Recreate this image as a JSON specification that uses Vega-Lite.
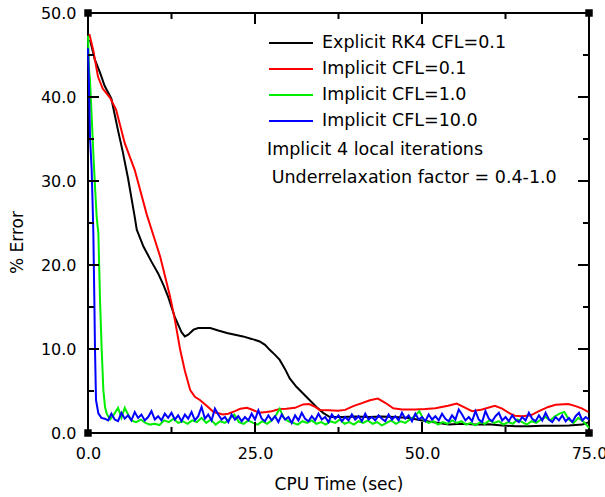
{
  "$schema": "https://vega.github.io/schema/vega-lite/v6.json",
  "autosize": {"type": "none"},
  "width": 501,
  "height": 420,
  "padding": {"left": 88, "top": 13, "right": 16, "bottom": 64},
  "background": "white",
  "config": {"font": "DejaVu Sans", "view": {"stroke": "black", "strokeWidth": 2}},
  "datasets": {
    "curves": [
      {"s":"A","t":0.3,"e":46.8},{"s":"A","t":1.0,"e":44.5},{"s":"A","t":1.8,"e":42.9},{"s":"A","t":2.5,"e":41.3},{"s":"A","t":3.5,"e":39.8},{"s":"A","t":4.5,"e":36.0},{"s":"A","t":5.2,"e":33.5},{"s":"A","t":6.0,"e":30.3},{"s":"A","t":7.0,"e":25.7},{"s":"A","t":7.3,"e":24.2},{"s":"A","t":8.3,"e":22.2},{"s":"A","t":9.5,"e":20.4},{"s":"A","t":10.5,"e":19.0},{"s":"A","t":11.3,"e":17.6},{"s":"A","t":12.0,"e":16.2},{"s":"A","t":13.0,"e":13.8},{"s":"A","t":14.0,"e":12.0},{"s":"A","t":14.5,"e":11.5},{"s":"A","t":15.0,"e":11.7},{"s":"A","t":15.8,"e":12.3},{"s":"A","t":16.5,"e":12.5},{"s":"A","t":18.3,"e":12.5},{"s":"A","t":19.5,"e":12.2},{"s":"A","t":20.8,"e":11.9},{"s":"A","t":22.0,"e":11.7},{"s":"A","t":23.2,"e":11.5},{"s":"A","t":24.5,"e":11.2},{"s":"A","t":25.7,"e":10.9},{"s":"A","t":26.5,"e":10.5},{"s":"A","t":27.2,"e":9.9},{"s":"A","t":28.0,"e":9.3},{"s":"A","t":28.7,"e":8.7},{"s":"A","t":29.5,"e":7.6},{"s":"A","t":30.2,"e":6.5},{"s":"A","t":31.2,"e":5.5},{"s":"A","t":32.2,"e":4.7},{"s":"A","t":33.2,"e":3.9},{"s":"A","t":34.2,"e":3.1},{"s":"A","t":35.2,"e":2.4},{"s":"A","t":36.2,"e":1.9},{"s":"A","t":38.0,"e":1.9},{"s":"A","t":40.0,"e":1.95},{"s":"A","t":42.0,"e":1.9},{"s":"A","t":44.0,"e":1.95},{"s":"A","t":46.0,"e":1.9},{"s":"A","t":48.0,"e":1.8},{"s":"A","t":50.0,"e":1.5},{"s":"A","t":52.0,"e":1.25},{"s":"A","t":54.0,"e":1.0},{"s":"A","t":56.0,"e":1.1},{"s":"A","t":58.0,"e":1.0},{"s":"A","t":60.0,"e":1.05},{"s":"A","t":62.0,"e":0.9},{"s":"A","t":64.0,"e":0.8},{"s":"A","t":66.0,"e":0.8},{"s":"A","t":68.0,"e":0.85},{"s":"A","t":70.0,"e":0.85},{"s":"A","t":72.0,"e":0.9},{"s":"A","t":74.0,"e":1.0},{"s":"A","t":75.0,"e":1.3},
      {"s":"B","t":0.2,"e":47.5},{"s":"B","t":0.8,"e":45.5},{"s":"B","t":1.5,"e":42.4},{"s":"B","t":2.2,"e":41.0},{"s":"B","t":3.3,"e":39.9},{"s":"B","t":4.2,"e":38.5},{"s":"B","t":5.5,"e":34.5},{"s":"B","t":7.0,"e":31.3},{"s":"B","t":8.8,"e":26.0},{"s":"B","t":10.0,"e":23.0},{"s":"B","t":10.8,"e":21.0},{"s":"B","t":12.3,"e":16.2},{"s":"B","t":13.0,"e":13.5},{"s":"B","t":13.8,"e":9.9},{"s":"B","t":14.5,"e":7.4},{"s":"B","t":15.3,"e":5.1},{"s":"B","t":16.0,"e":4.3},{"s":"B","t":16.8,"e":3.9},{"s":"B","t":17.8,"e":3.2},{"s":"B","t":18.8,"e":2.5},{"s":"B","t":20.2,"e":2.2},{"s":"B","t":21.0,"e":2.3},{"s":"B","t":22.0,"e":2.6},{"s":"B","t":22.8,"e":2.9},{"s":"B","t":23.8,"e":3.0},{"s":"B","t":24.5,"e":2.8},{"s":"B","t":25.7,"e":2.4},{"s":"B","t":26.7,"e":2.5},{"s":"B","t":27.5,"e":2.6},{"s":"B","t":28.7,"e":2.85},{"s":"B","t":29.7,"e":2.9},{"s":"B","t":31.0,"e":3.0},{"s":"B","t":32.2,"e":3.4},{"s":"B","t":33.1,"e":3.45},{"s":"B","t":34.0,"e":3.1},{"s":"B","t":34.7,"e":2.75},{"s":"B","t":36.0,"e":2.7},{"s":"B","t":37.4,"e":2.65},{"s":"B","t":38.5,"e":2.75},{"s":"B","t":39.7,"e":3.2},{"s":"B","t":40.8,"e":3.5},{"s":"B","t":42.2,"e":3.9},{"s":"B","t":43.4,"e":4.1},{"s":"B","t":44.5,"e":3.6},{"s":"B","t":45.7,"e":2.95},{"s":"B","t":47.0,"e":2.8},{"s":"B","t":49.0,"e":2.8},{"s":"B","t":50.5,"e":2.85},{"s":"B","t":52.0,"e":2.95},{"s":"B","t":53.9,"e":3.25},{"s":"B","t":55.2,"e":3.5},{"s":"B","t":56.5,"e":3.0},{"s":"B","t":57.5,"e":2.6},{"s":"B","t":59.0,"e":2.8},{"s":"B","t":60.9,"e":3.25},{"s":"B","t":62.0,"e":2.9},{"s":"B","t":63.2,"e":2.3},{"s":"B","t":63.9,"e":2.05},{"s":"B","t":65.0,"e":2.0},{"s":"B","t":66.3,"e":2.1},{"s":"B","t":67.5,"e":2.6},{"s":"B","t":68.9,"e":3.1},{"s":"B","t":70.0,"e":3.35},{"s":"B","t":71.9,"e":3.45},{"s":"B","t":73.0,"e":3.2},{"s":"B","t":74.0,"e":2.9},{"s":"B","t":74.9,"e":2.5},
      {"s":"C","t":0.0,"e":47.3},{"s":"C","t":0.15,"e":43.3},{"s":"C","t":0.3,"e":42.0},{"s":"C","t":0.55,"e":37.7},{"s":"C","t":0.8,"e":33.3},{"s":"C","t":1.05,"e":29.3},{"s":"C","t":1.3,"e":25.7},{"s":"C","t":1.55,"e":23.8},{"s":"C","t":1.8,"e":15.8},{"s":"C","t":2.05,"e":9.9},{"s":"C","t":2.3,"e":5.1},{"s":"C","t":2.55,"e":3.1},{"s":"C","t":2.8,"e":2.3},{"s":"C","t":3.05,"e":1.95},{"s":"C","t":3.3,"e":1.6},{"s":"C","t":3.8,"e":2.1},{"s":"C","t":4.5,"e":3.0},{"s":"C","t":5.0,"e":1.8},{"s":"C","t":5.5,"e":3.0},{"s":"C","t":6.0,"e":2.2},{"s":"C","t":6.5,"e":1.5},{"s":"C","t":7.2,"e":1.3},{"s":"C","t":7.9,"e":1.6},{"s":"C","t":8.6,"e":1.2},{"s":"C","t":9.3,"e":1.0},{"s":"C","t":10.0,"e":1.1},{"s":"C","t":10.7,"e":0.95},{"s":"C","t":11.4,"e":1.5},{"s":"C","t":12.1,"e":1.3},{"s":"C","t":12.8,"e":1.7},{"s":"C","t":13.5,"e":1.2},{"s":"C","t":14.2,"e":1.4},{"s":"C","t":14.9,"e":1.1},{"s":"C","t":15.6,"e":1.5},{"s":"C","t":16.3,"e":1.3},{"s":"C","t":17.0,"e":1.8},{"s":"C","t":17.7,"e":1.2},{"s":"C","t":18.4,"e":1.6},{"s":"C","t":19.1,"e":1.0},{"s":"C","t":19.8,"e":1.4},{"s":"C","t":20.5,"e":1.2},{"s":"C","t":21.2,"e":1.7},{"s":"C","t":21.9,"e":2.2},{"s":"C","t":22.6,"e":1.3},{"s":"C","t":23.3,"e":1.1},{"s":"C","t":24.0,"e":1.5},{"s":"C","t":24.7,"e":1.2},{"s":"C","t":25.4,"e":1.0},{"s":"C","t":26.1,"e":1.4},{"s":"C","t":26.8,"e":1.1},{"s":"C","t":27.5,"e":1.5},{"s":"C","t":28.2,"e":2.2},{"s":"C","t":28.7,"e":2.9},{"s":"C","t":29.3,"e":1.8},{"s":"C","t":30.0,"e":1.4},{"s":"C","t":30.7,"e":1.2},{"s":"C","t":31.4,"e":1.0},{"s":"C","t":32.1,"e":1.4},{"s":"C","t":32.8,"e":1.2},{"s":"C","t":33.5,"e":1.5},{"s":"C","t":34.2,"e":1.1},{"s":"C","t":34.9,"e":1.3},{"s":"C","t":35.6,"e":1.0},{"s":"C","t":36.3,"e":1.4},{"s":"C","t":37.0,"e":1.2},{"s":"C","t":37.7,"e":1.6},{"s":"C","t":38.4,"e":1.1},{"s":"C","t":39.1,"e":1.3},{"s":"C","t":39.8,"e":1.0},{"s":"C","t":40.5,"e":1.4},{"s":"C","t":41.2,"e":1.2},{"s":"C","t":41.9,"e":1.5},{"s":"C","t":42.6,"e":1.1},{"s":"C","t":43.3,"e":1.3},{"s":"C","t":44.0,"e":0.9},{"s":"C","t":44.7,"e":1.2},{"s":"C","t":45.4,"e":1.5},{"s":"C","t":46.1,"e":1.1},{"s":"C","t":46.8,"e":1.4},{"s":"C","t":47.5,"e":1.2},{"s":"C","t":48.2,"e":1.6},{"s":"C","t":48.9,"e":2.0},{"s":"C","t":49.6,"e":2.6},{"s":"C","t":50.3,"e":1.5},{"s":"C","t":51.0,"e":1.2},{"s":"C","t":51.7,"e":1.4},{"s":"C","t":52.4,"e":1.0},{"s":"C","t":53.1,"e":1.3},{"s":"C","t":53.8,"e":1.1},{"s":"C","t":54.5,"e":1.5},{"s":"C","t":55.2,"e":1.2},{"s":"C","t":55.9,"e":1.4},{"s":"C","t":56.6,"e":1.0},{"s":"C","t":57.3,"e":1.2},{"s":"C","t":58.0,"e":0.9},{"s":"C","t":58.7,"e":1.3},{"s":"C","t":59.4,"e":1.1},{"s":"C","t":60.1,"e":1.5},{"s":"C","t":60.8,"e":1.2},{"s":"C","t":61.5,"e":1.4},{"s":"C","t":62.2,"e":1.0},{"s":"C","t":62.9,"e":1.3},{"s":"C","t":63.6,"e":1.1},{"s":"C","t":64.3,"e":1.6},{"s":"C","t":65.0,"e":1.3},{"s":"C","t":65.7,"e":1.0},{"s":"C","t":66.4,"e":1.4},{"s":"C","t":67.1,"e":1.2},{"s":"C","t":67.8,"e":1.6},{"s":"C","t":68.5,"e":1.9},{"s":"C","t":69.2,"e":1.5},{"s":"C","t":69.9,"e":2.0},{"s":"C","t":70.6,"e":2.3},{"s":"C","t":71.3,"e":2.5},{"s":"C","t":72.0,"e":1.6},{"s":"C","t":72.7,"e":1.2},{"s":"C","t":73.4,"e":1.8},{"s":"C","t":74.1,"e":1.4},{"s":"C","t":74.6,"e":1.0},{"s":"C","t":75.0,"e":0.6},
      {"s":"D","t":0.0,"e":45.8},{"s":"D","t":0.15,"e":41.2},{"s":"D","t":0.3,"e":35.3},{"s":"D","t":0.55,"e":31.3},{"s":"D","t":0.7,"e":27.0},{"s":"D","t":0.8,"e":23.8},{"s":"D","t":0.95,"e":15.8},{"s":"D","t":1.05,"e":9.9},{"s":"D","t":1.2,"e":3.9},{"s":"D","t":1.55,"e":2.35},{"s":"D","t":2.0,"e":1.8},
      {"s":"D","t":2.5,"e":1.7},{"s":"D","t":3.0,"e":1.5},{"s":"D","t":3.5,"e":2.3},{"s":"D","t":4.0,"e":1.6},{"s":"D","t":4.5,"e":1.4},{"s":"D","t":5.0,"e":2.4},{"s":"D","t":5.5,"e":1.7},{"s":"D","t":6.0,"e":2.1},{"s":"D","t":6.5,"e":1.5},{"s":"D","t":7.0,"e":2.5},{"s":"D","t":7.5,"e":1.8},{"s":"D","t":8.0,"e":2.2},{"s":"D","t":8.5,"e":1.5},{"s":"D","t":9.0,"e":1.9},{"s":"D","t":9.5,"e":2.6},{"s":"D","t":10.0,"e":1.6},{"s":"D","t":10.5,"e":2.0},{"s":"D","t":11.0,"e":1.5},{"s":"D","t":11.5,"e":2.3},{"s":"D","t":12.0,"e":1.8},{"s":"D","t":12.5,"e":2.4},{"s":"D","t":13.0,"e":1.6},{"s":"D","t":13.5,"e":2.1},{"s":"D","t":14.0,"e":1.4},{"s":"D","t":14.5,"e":2.2},{"s":"D","t":15.0,"e":1.7},{"s":"D","t":15.5,"e":2.5},{"s":"D","t":16.0,"e":1.5},{"s":"D","t":16.5,"e":2.0},{"s":"D","t":17.0,"e":3.1},{"s":"D","t":17.5,"e":1.7},{"s":"D","t":18.0,"e":2.2},{"s":"D","t":18.5,"e":1.5},{"s":"D","t":19.0,"e":2.9},{"s":"D","t":19.5,"e":2.2},{"s":"D","t":20.0,"e":1.6},{"s":"D","t":20.5,"e":1.9},{"s":"D","t":21.0,"e":1.3},{"s":"D","t":21.5,"e":2.2},{"s":"D","t":22.0,"e":1.6},{"s":"D","t":22.5,"e":2.0},{"s":"D","t":23.0,"e":1.4},{"s":"D","t":23.5,"e":1.9},{"s":"D","t":24.0,"e":1.5},{"s":"D","t":24.5,"e":2.3},{"s":"D","t":25.0,"e":1.6},{"s":"D","t":25.5,"e":2.7},{"s":"D","t":26.0,"e":1.7},{"s":"D","t":26.5,"e":1.4},{"s":"D","t":27.0,"e":2.1},{"s":"D","t":27.5,"e":1.5},{"s":"D","t":28.0,"e":2.0},{"s":"D","t":28.5,"e":1.3},{"s":"D","t":29.0,"e":2.2},{"s":"D","t":29.5,"e":1.6},{"s":"D","t":30.0,"e":1.9},{"s":"D","t":30.5,"e":1.2},{"s":"D","t":31.0,"e":2.1},{"s":"D","t":31.5,"e":1.5},{"s":"D","t":32.0,"e":2.4},{"s":"D","t":32.5,"e":1.7},{"s":"D","t":33.0,"e":1.4},{"s":"D","t":33.5,"e":2.0},{"s":"D","t":34.0,"e":1.5},{"s":"D","t":34.5,"e":2.3},{"s":"D","t":35.0,"e":1.6},{"s":"D","t":35.5,"e":1.9},{"s":"D","t":36.0,"e":1.3},{"s":"D","t":36.5,"e":2.2},{"s":"D","t":37.0,"e":1.7},{"s":"D","t":37.5,"e":2.1},{"s":"D","t":38.0,"e":1.4},{"s":"D","t":38.5,"e":1.9},{"s":"D","t":39.0,"e":1.5},{"s":"D","t":39.5,"e":2.2},{"s":"D","t":40.0,"e":1.6},{"s":"D","t":40.5,"e":2.0},{"s":"D","t":41.0,"e":1.4},{"s":"D","t":41.5,"e":2.3},{"s":"D","t":42.0,"e":1.6},{"s":"D","t":42.5,"e":1.9},{"s":"D","t":43.0,"e":1.5},{"s":"D","t":43.5,"e":2.1},{"s":"D","t":44.0,"e":1.7},{"s":"D","t":44.5,"e":1.4},{"s":"D","t":45.0,"e":2.2},{"s":"D","t":45.5,"e":1.6},{"s":"D","t":46.0,"e":2.0},{"s":"D","t":46.5,"e":1.5},{"s":"D","t":47.0,"e":2.4},{"s":"D","t":47.5,"e":1.7},{"s":"D","t":48.0,"e":2.1},{"s":"D","t":48.5,"e":1.4},{"s":"D","t":49.0,"e":2.3},{"s":"D","t":49.5,"e":1.6},{"s":"D","t":50.0,"e":1.9},{"s":"D","t":50.5,"e":1.4},{"s":"D","t":51.0,"e":2.2},{"s":"D","t":51.5,"e":1.6},{"s":"D","t":52.0,"e":2.0},{"s":"D","t":52.5,"e":1.5},{"s":"D","t":53.0,"e":2.3},{"s":"D","t":53.5,"e":1.7},{"s":"D","t":54.0,"e":1.4},{"s":"D","t":54.5,"e":2.1},{"s":"D","t":55.0,"e":1.6},{"s":"D","t":55.5,"e":2.8},{"s":"D","t":56.0,"e":2.2},{"s":"D","t":56.5,"e":1.5},{"s":"D","t":57.0,"e":1.9},{"s":"D","t":57.5,"e":1.4},{"s":"D","t":58.0,"e":2.6},{"s":"D","t":58.5,"e":1.6},{"s":"D","t":59.0,"e":1.3},{"s":"D","t":59.5,"e":2.6},{"s":"D","t":60.0,"e":1.7},{"s":"D","t":60.5,"e":1.4},{"s":"D","t":61.0,"e":2.0},{"s":"D","t":61.5,"e":2.4},{"s":"D","t":62.0,"e":1.5},{"s":"D","t":62.5,"e":1.9},{"s":"D","t":63.0,"e":1.4},{"s":"D","t":63.5,"e":2.1},{"s":"D","t":64.0,"e":1.6},{"s":"D","t":64.5,"e":1.3},{"s":"D","t":65.0,"e":1.9},{"s":"D","t":65.5,"e":1.5},{"s":"D","t":66.0,"e":2.4},{"s":"D","t":66.5,"e":1.7},{"s":"D","t":67.0,"e":1.4},{"s":"D","t":67.5,"e":2.1},{"s":"D","t":68.0,"e":1.5},{"s":"D","t":68.5,"e":2.4},{"s":"D","t":69.0,"e":1.6},{"s":"D","t":69.5,"e":1.3},{"s":"D","t":70.0,"e":1.9},{"s":"D","t":70.5,"e":1.5},{"s":"D","t":71.0,"e":2.1},{"s":"D","t":71.5,"e":1.4},{"s":"D","t":72.0,"e":1.8},{"s":"D","t":72.5,"e":1.3},{"s":"D","t":73.0,"e":2.0},{"s":"D","t":73.5,"e":2.4},{"s":"D","t":74.0,"e":1.5},{"s":"D","t":74.5,"e":1.9},{"s":"D","t":75.0,"e":1.6}
    ],
    "corners": [{"t":0,"e":0},{"t":75,"e":0},{"t":0,"e":50},{"t":75,"e":50}],
    "notes": [
      {"label":"Implicit 4 local iterations","t":26.8,"e":33.7},
      {"label":"Underrelaxation factor = 0.4-1.0","t":27.5,"e":30.4}
    ],
    "xmajor": [{"t":25},{"t":50}],
    "xminor": [{"t":12.5},{"t":37.5},{"t":62.5}],
    "ymajor": [{"e":10},{"e":20},{"e":30},{"e":40}],
    "yminor": [{"e":5},{"e":15},{"e":25},{"e":35},{"e":45}]
  },
  "layer": [
    {
      "data": {"name": "curves"},
      "mark": {"type": "line", "strokeWidth": 2, "interpolate": "linear"},
      "encoding": {
        "x": {
          "field": "t", "type": "quantitative",
          "scale": {"domain": [0, 75], "nice": false, "zero": false},
          "axis": {
            "orient": "bottom",
            "values": [0, 25, 50, 75],
            "format": ".1f",
            "ticks": false, "tickSize": 0,
            "domain": false, "grid": false,
            "labelFont": "DejaVu Sans", "labelFontSize": 16, "labelColor": "black",
            "labelPadding": 12, "labelFlush": false, "labelOverlap": false,
            "title": "CPU Time (sec)",
            "titleFont": "DejaVu Sans", "titleFontSize": 17, "titleFontWeight": "normal", "titleColor": "black",
            "titleY": 43, "titleBaseline": "top"
          }
        },
        "y": {
          "field": "e", "type": "quantitative",
          "scale": {"domain": [0, 50], "nice": false, "zero": false},
          "axis": {
            "orient": "left",
            "values": [0, 10, 20, 30, 40, 50],
            "format": ".1f",
            "ticks": false, "tickSize": 0,
            "domain": false, "grid": false,
            "labelFont": "DejaVu Sans", "labelFontSize": 16, "labelColor": "black",
            "labelPadding": 12, "labelFlush": false, "labelOverlap": false,
            "title": "% Error",
            "titleFont": "DejaVu Sans", "titleFontSize": 17, "titleFontWeight": "normal", "titleColor": "black",
            "titleX": -71, "titleY": 229, "titleBaseline": "middle", "titleAlign": "center", "titleAngle": 270
          }
        },
        "color": {
          "field": "s", "type": "nominal",
          "scale": {"domain": ["A", "B", "C", "D"], "range": ["#000000", "#ff0000", "#00ee00", "#0000ff"]},
          "legend": {
            "orient": "none", "legendX": 180, "legendY": 22,
            "title": null, "padding": 0,
            "symbolType": "stroke", "symbolSize": 1936, "symbolStrokeWidth": 2,
            "labelFont": "DejaVu Sans", "labelFontSize": 17.5, "labelColor": "black", "labelLimit": 400,
            "labelOffset": 8, "clipHeight": 16, "rowPadding": 8,
            "labelExpr": "datum.label == 'A' ? 'Explicit RK4 CFL=0.1' : datum.label == 'B' ? 'Implicit CFL=0.1' : datum.label == 'C' ? 'Implicit CFL=1.0' : 'Implicit CFL=10.0'"
          }
        }
      }
    },
    {
      "data": {"name": "xmajor"},
      "mark": {"type": "tick", "orient": "vertical", "size": 11, "thickness": 2, "yOffset": -5.5, "color": "black", "opacity": 1},
      "encoding": {"x": {"field": "t", "type": "quantitative"}, "y": {"datum": 0, "type": "quantitative"}}
    },
    {
      "data": {"name": "xmajor"},
      "mark": {"type": "tick", "orient": "vertical", "size": 11, "thickness": 2, "yOffset": 5.5, "color": "black", "opacity": 1},
      "encoding": {"x": {"field": "t", "type": "quantitative"}, "y": {"datum": 50, "type": "quantitative"}}
    },
    {
      "data": {"name": "xminor"},
      "mark": {"type": "tick", "orient": "vertical", "size": 6, "thickness": 2, "yOffset": -3, "color": "black", "opacity": 1},
      "encoding": {"x": {"field": "t", "type": "quantitative"}, "y": {"datum": 0, "type": "quantitative"}}
    },
    {
      "data": {"name": "xminor"},
      "mark": {"type": "tick", "orient": "vertical", "size": 6, "thickness": 2, "yOffset": 3, "color": "black", "opacity": 1},
      "encoding": {"x": {"field": "t", "type": "quantitative"}, "y": {"datum": 50, "type": "quantitative"}}
    },
    {
      "data": {"name": "ymajor"},
      "mark": {"type": "tick", "orient": "horizontal", "size": 11, "thickness": 2, "xOffset": 5.5, "color": "black", "opacity": 1},
      "encoding": {"y": {"field": "e", "type": "quantitative"}, "x": {"datum": 0, "type": "quantitative"}}
    },
    {
      "data": {"name": "ymajor"},
      "mark": {"type": "tick", "orient": "horizontal", "size": 11, "thickness": 2, "xOffset": -5.5, "color": "black", "opacity": 1},
      "encoding": {"y": {"field": "e", "type": "quantitative"}, "x": {"datum": 75, "type": "quantitative"}}
    },
    {
      "data": {"name": "yminor"},
      "mark": {"type": "tick", "orient": "horizontal", "size": 6, "thickness": 2, "xOffset": 3, "color": "black", "opacity": 1},
      "encoding": {"y": {"field": "e", "type": "quantitative"}, "x": {"datum": 0, "type": "quantitative"}}
    },
    {
      "data": {"name": "yminor"},
      "mark": {"type": "tick", "orient": "horizontal", "size": 6, "thickness": 2, "xOffset": -3, "color": "black", "opacity": 1},
      "encoding": {"y": {"field": "e", "type": "quantitative"}, "x": {"datum": 75, "type": "quantitative"}}
    },
    {
      "data": {"name": "corners"},
      "mark": {"type": "point", "shape": "square", "filled": true, "color": "black", "size": 56, "opacity": 1},
      "encoding": {"x": {"field": "t", "type": "quantitative"}, "y": {"field": "e", "type": "quantitative"}}
    },
    {
      "data": {"name": "notes"},
      "mark": {"type": "text", "align": "left", "baseline": "middle", "font": "DejaVu Sans", "fontSize": 17.5, "color": "black"},
      "encoding": {
        "x": {"field": "t", "type": "quantitative"},
        "y": {"field": "e", "type": "quantitative"},
        "text": {"field": "label"}
      }
    }
  ]
}
